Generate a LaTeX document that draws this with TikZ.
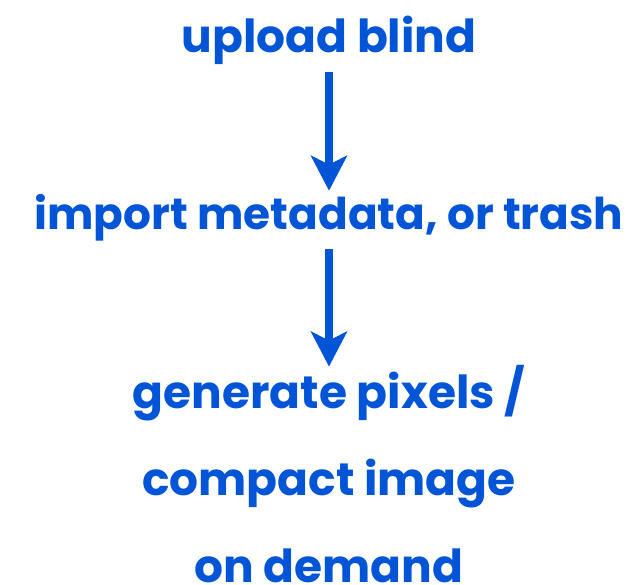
\documentclass[tikz,border=0pt]{standalone}
\usepackage{fontspec}
\setmainfont{Poppins}
\usetikzlibrary{arrows.meta}
\definecolor{flowblue}{RGB}{0,84,214}

\begin{document}
\begin{tikzpicture}[x=1pt,y=1pt,every path/.style={>={Stealth[length=35pt,width=36pt,inset=9pt]}},
  every node/.style={text=flowblue,inner sep=0pt,font=\fontsize{45.5}{87}\selectfont\bfseries}]
\useasboundingbox (0,0) rectangle (632,584);
\node[anchor=base]              (upload)   at (329,531) { upload blind };
\node[anchor=base,font=\fontsize{43.8}{87}\selectfont\bfseries]
                                (import)   at (329,354) { import metadata, or trash };
\node[anchor=base,align=center] (generate) at (329,2)   { generate pixels /\\compact image\\on demand };
\draw[->,flowblue,line width=8pt,shorten <=7pt,shorten >=4pt]  (upload.south) -- (import.north);
\draw[->,flowblue,line width=8pt,shorten <=7pt,shorten >=-2pt] (import.south) -- (generate.north);
\end{tikzpicture}
\end{document}
